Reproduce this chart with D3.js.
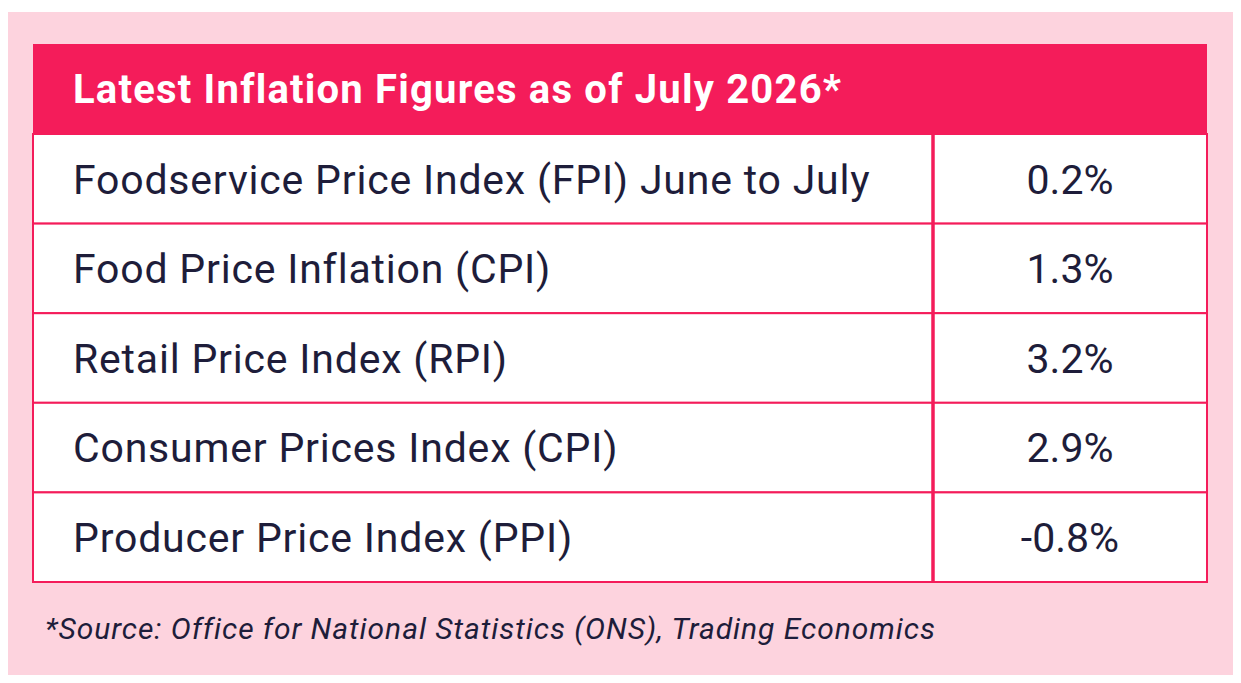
<!DOCTYPE html>
<html><head><meta charset="utf-8">
<script src="https://cdn.jsdelivr.net/npm/d3@7"></script>
<style>body{margin:0;background:#fff}</style>
</head><body><svg></svg>
<script>
// Table data
const title = "Latest Inflation Figures as of July 2026*";
const labels = [
  "Foodservice Price Index (FPI) June to July",
  "Food Price Inflation (CPI)",
  "Retail Price Index (RPI)",
  "Consumer Prices Index (CPI)",
  "Producer Price Index (PPI)"
];
const values = ["0.2%", "1.3%", "3.2%", "2.9%", "-0.8%"];
const note = "*Source: Office for National Statistics (ONS), Trading Economics";

const W = 1241, H = 683;
const pink = "#f41c5a", navy = "#1e1d3a";
const left = 33, right = 1207, headTop = 44, headBot = 134, tableBot = 582, split = 933;

const svg = d3.select("svg").attr("width", W).attr("height", H)
  .style("font-family", "Roboto, sans-serif");

svg.append("rect").attr("x", 8).attr("y", 12).attr("width", 1225).attr("height", 663)
  .attr("fill", "#fdd3de");

// header
svg.append("rect").attr("x", left).attr("y", headTop).attr("width", right - left)
  .attr("height", headBot - headTop).attr("fill", pink);
svg.append("text").attr("x", 73).attr("y", (headTop + headBot) / 2).attr("dy", "0.35em")
  .attr("fill", "#fff").attr("font-size", 40).attr("font-weight", "bold")
  .attr("letter-spacing", 1.2).text(title);

// rows
const y = d3.scaleBand().domain(labels).range([headBot, tableBot]);

const rows = svg.selectAll("g.row").data(labels).enter().append("g")
  .attr("transform", d => `translate(0,${y(d)})`);

rows.append("rect").attr("x", left).attr("width", right - left)
  .attr("height", y.bandwidth()).attr("fill", "#fff")
  .attr("stroke", pink).attr("stroke-width", 2);

rows.append("text").attr("x", 73).attr("y", y.bandwidth() / 2).attr("dy", "0.36em")
  .attr("fill", navy).attr("font-size", 41).attr("letter-spacing", 0.8).text(d => d);

rows.append("text").attr("x", (split + right) / 2).attr("y", y.bandwidth() / 2).attr("dy", "0.36em")
  .attr("text-anchor", "middle").attr("fill", navy).attr("font-size", 41)
  .text((d, i) => values[i]);

svg.append("line").attr("x1", split).attr("x2", split).attr("y1", headBot).attr("y2", tableBot)
  .attr("stroke", pink).attr("stroke-width", 3.5);

svg.append("text").attr("x", 45).attr("y", 628).attr("dy", "0.35em")
  .attr("fill", navy).attr("font-size", 30).attr("font-style", "italic")
  .attr("letter-spacing", 0.95).text(note);
</script></body></html>
